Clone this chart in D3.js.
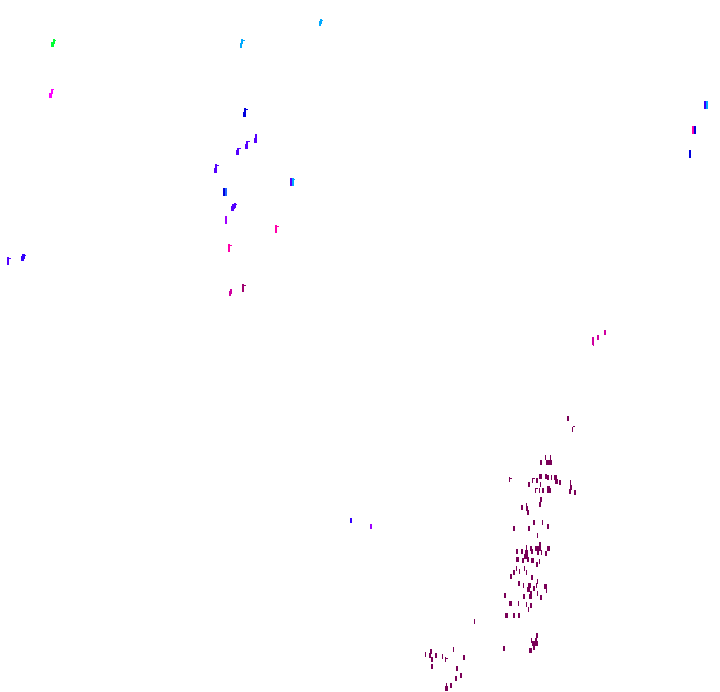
<!DOCTYPE html>
<html>
<head>
<meta charset="utf-8">
<script src="https://cdn.jsdelivr.net/npm/d3@7/dist/d3.min.js"></script>
<style>html,body{margin:0;padding:0;background:#fff}svg{display:block}</style>
</head>
<body>
<div id="chart"></div>
<script>
// each point: [x value, y value, band]
const green = [[53.5,41,1],[52.5,44,2],[55,40,4]];
const cyan = [[242,41,1],[241,45,1],[243.5,40,4],[320.5,21,1],[319.5,24,1],[322,20,4],[293,182,3],[707,105,3],[294,179,4]];
const azure = [[226.3,192,3]];
const blue = [[245,110.5,1],[244.3,114,2],[247,109,4],[224.3,192,3],[695,130,3],[690,153.5,3]];
const indigo = [[705,105,3],[22.7,258,2],[23.5,256,2],[25,255,4],[351,520,1]];
const violet = [[256,136.7,1],[255,140,2],[247,143.3,1],[246.3,146.3,2],[248.5,141.5,4],[237.7,150,1],[237.3,152.7,2],[239.5,148,4],[216.3,166.7,1],[215.3,170.3,2],[217.5,165,4],[291,182,3],[233,206,2],[232,209,2],[234.5,205.5,1],[235.5,205,4],[8.3,260.7,3],[10,258.5,4]];
const purple = [[226,220.3,3],[371,526.3,1]];
const magenta = [[51.5,91,1],[50.3,95,2],[53,89.5,4]];
const pink = [[693,130,3],[276,229,3],[278,226.5,4],[229,247.7,3],[231,245.5,4]];
const rose = [[231,291,1],[230,293,1],[593,340.5,3],[593.5,343,0],[598,337.7,1],[605,332.3,1]];
const wine = [[243,288,3],[245,285.5,4]];
const maroon = [
[545.3,457.3,0],[550.3,457.3,0],[541,462.3,1],[546.5,462.5,1],[548.5,462.5,1],[550.5,462.5,1],[509.7,479.3,0],[511,478,4],[532,480,0],[533.5,478.5,4],[537,480.7,1],[540.3,476.3,2],[546,476.3,1],[548,477.3,1],[551,477,0],[555.3,477.3,2],[556,481.7,2],[560,482.3,1],[570,482.3,0],[571,487.3,1],[570,491.7,1],[575,492.3,1],[529,484.7,1],[540.7,484.7,0],[535,490,0],[536.5,488,4],[539.7,490,0],[542.7,490.3,1],[548.3,488.3,2],[548.7,490.7,2],[550,490.3,1],[541,499.3,1],[540,504,1],[526.7,505,0],[522,507.3,1],[527,508,1],[528,512.3,1],[534,522,1],[542.3,522.3,0],[548,526.7,1],[514,528.3,1],[529,528.7,1],
[537.3,535,0],[540.3,544,1],[526.3,547.3,0],[531,548,1],[536.5,548,2],[539,548,2],[548.3,548.7,2],[517,551,1],[522,551.3,1],[526,552.7,2],[525,556,2],[526.7,556,1],[532,551.7,1],[538,552,1],[541.3,552.3,0],[546,553.3,1],[517.3,559.3,2],[523,560,1],[527.7,559.7,1],[532.3,560.3,2],[539.3,561,0],[537,564.7,1],[516.3,568,0],[524.3,568,0],[514,572,1],[519,571.7,0],[526.7,572.7,0],[511,576,1],[532,577,1],[537.3,581,0],[519,583.7,1],[523.3,585,0],[529.3,585,2],[536,585,0],[545,586,2],[528,589,2],[533.7,588.7,1],[546,590,0],[531,593,1],[537.3,593.3,0],[505,595.7,1],[524,596.7,1],[530.7,596.7,2],[541,597.7,1],[510,603.7,2],[518.7,603.7,0],[526.3,604.7,0],[531,605,1],[528.3,609,0],[506.7,615.3,2],[514,615.7,1],[519,615.7,1],
[568,418.3,1],[572.7,429,0],[574,426.5,4],
[474.3,621,0],[537,635.7,1],[531.3,640,0],[535.7,640,1],[533,643.3,2],[536.7,643.3,2],[534,647,1],[504,648.7,1],[530.3,650.7,2],[453.3,649.3,0],[431,651.7,1],[430,655,1],[425.3,654.7,0],[436,655.7,1],[442.3,656,0],[464,657.3,1],[445,659.3,0],[446.5,658,4],[432.3,659.3,1],[432,666.3,1],[457,668,1],[461,675.7,1],[456,678,1],[446.3,685.3,0],[446.7,688.3,2],[451,685.3,1]
];

const seriesList = [green, cyan, azure, blue, indigo, violet, purple, magenta, pink, rose, wine, maroon];
const palette = ["#00ff33","#00aaff","#2266ff","#0000dd","#3300ff","#5500ff","#a000ff","#ff00ff","#ff00aa","#d000a0","#a00070","#7a0057"];
const bandWidths = [1,2,3,2,2];
const bandHeights = [5,5,5,8,1];

const width = 720, height = 692;
const x = d3.scaleLinear().domain([0,720]).range([0,width]);
const y = d3.scaleLinear().domain([0,692]).range([0,height]);
const w = d3.scaleOrdinal().domain([0,1,2,3,4]).range(bandWidths);
const h = d3.scaleOrdinal().domain([0,1,2,3,4]).range(bandHeights);

const svg = d3.select("#chart").append("svg").attr("width",width).attr("height",height).attr("shape-rendering","crispEdges");
svg.selectAll("g").data(seriesList).join("g").attr("fill",(d,i)=>palette[i])
  .selectAll("rect").data(d=>d).join("rect")
  .attr("x",d=>Math.round(x(d[0])-w(d[2])/2))
  .attr("y",d=>Math.round(y(d[1])-h(d[2])/2))
  .attr("width",d=>w(d[2]))
  .attr("height",d=>h(d[2]));
</script>
</body>
</html>
